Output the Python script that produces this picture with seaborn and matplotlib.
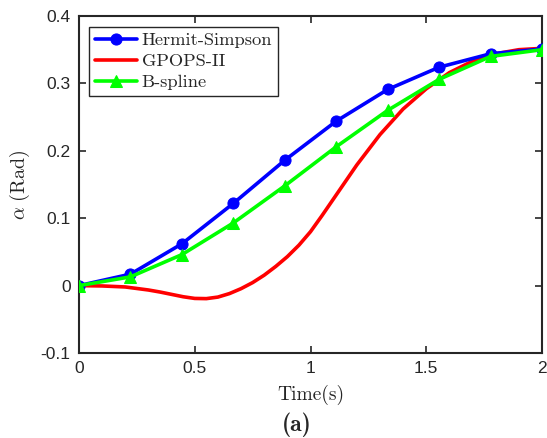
import matplotlib
matplotlib.use("Agg")
import matplotlib.pyplot as plt
import seaborn as sns
import numpy as np
import pandas as pd

# ---- data ----
t_nodes = [0.0, 0.2222, 0.4444, 0.6667, 0.8889, 1.1111, 1.3333, 1.5556, 1.7778, 2.0]
hermite = [0.0, 0.017, 0.062, 0.122, 0.186, 0.244, 0.291, 0.324, 0.344, 0.351]
bspline = [0.0, 0.013, 0.046, 0.093, 0.148, 0.206, 0.260, 0.306, 0.340, 0.350]
t_gpops = [0.0, 0.1, 0.2, 0.3, 0.35, 0.4, 0.45, 0.5, 0.55, 0.6, 0.65, 0.7, 0.75, 0.8, 0.85,
           0.9, 0.95, 1.0, 1.05, 1.1, 1.2, 1.3, 1.4, 1.5, 1.6, 1.7, 1.8, 1.9, 2.0]
gpops = [0.0, -0.0005, -0.002, -0.0065, -0.0095, -0.013, -0.0165, -0.0190, -0.0193, -0.0170,
         -0.0118, -0.0045, 0.0045, 0.0155, 0.0285, 0.043, 0.060, 0.080, 0.104, 0.129,
         0.179, 0.224, 0.262, 0.292, 0.316, 0.333, 0.344, 0.350, 0.352]
labels = ["Hermit-Simpson", "GPOPS-II", "B-spline"]
xticks = [0, 0.5, 1, 1.5, 2]
yticks = [-0.1, 0, 0.1, 0.2, 0.3, 0.4]
yticklabels = ["-0.1", "0", "0.1", "0.2", "0.3", "0.4"]
xticklabels = ["0", "0.5", "1", "1.5", "2"]

sns.set_theme(style="ticks")
plt.rcParams["font.family"] = ["Liberation Sans", "DejaVu Sans"]
plt.rcParams["mathtext.fontset"] = "cm"

fig = plt.figure(figsize=(5.47, 4.38), dpi=100)
ax = fig.add_axes([0.1444, 0.194, 0.8465, 0.7695])

df_h = pd.DataFrame({"t": t_nodes, "v": hermite})
df_b = pd.DataFrame({"t": t_nodes, "v": bspline})
df_g = pd.DataFrame({"t": t_gpops, "v": gpops})

sns.lineplot(data=df_h, x="t", y="v", ax=ax, color="#0000ff", lw=2.6, marker="o",
             markersize=8, markeredgecolor="#0000ff", label=labels[0], zorder=3)
sns.lineplot(data=df_g, x="t", y="v", ax=ax, color="#ff0000", lw=2.6, label=labels[1], zorder=2)
sns.lineplot(data=df_b, x="t", y="v", ax=ax, color="#00ff00", lw=2.6, marker="^",
             markersize=9, markeredgecolor="#00ff00", label=labels[2], zorder=4)

ax.set_xlim(0, 2)
ax.set_ylim(-0.1, 0.4)
ax.set_xticks(xticks)
ax.set_xticklabels(xticklabels)
ax.set_yticks(yticks)
ax.set_yticklabels(yticklabels)
ax.tick_params(direction="in", length=5, width=1.2, top=True, right=True,
               labelsize=12.5, colors="#262626", pad=6)
for s in ax.spines.values():
    s.set_linewidth(1.5)
    s.set_color("#262626")

ax.set_xlabel("Time(s)", family="cmr10", fontsize=14, color="#262626", labelpad=6)
ax.set_ylabel(r"$\alpha\ \mathrm{(Rad)}$", fontsize=14.5, color="#262626", labelpad=6)

leg = ax.legend(loc="upper left", bbox_to_anchor=(0.01, 0.985), prop={"family": "cmr10", "size": 13.3},
                frameon=True, fancybox=False, edgecolor="#262626", framealpha=1,
                handlelength=2.3, borderpad=0.3, labelspacing=0.28, handletextpad=0.25,
                borderaxespad=0.3)
leg.get_frame().set_linewidth(1.0)

fig.text(0.543, 0.003, "(a)", family="cmb10", fontsize=17, ha="center", va="bottom")

fig.savefig("out.png", dpi=100)
